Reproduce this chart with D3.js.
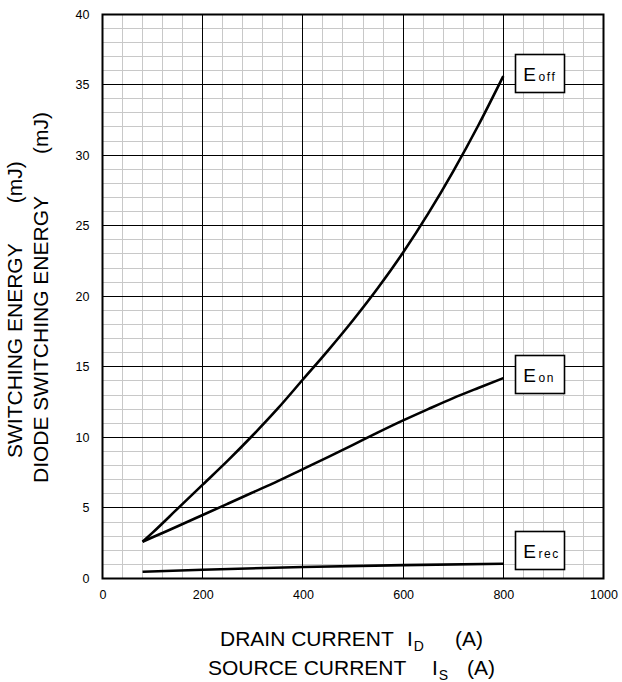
<!DOCTYPE html>
<html>
<head>
<meta charset="utf-8">
<script src="https://cdn.jsdelivr.net/npm/d3@7"></script>
<style>
  html, body { margin: 0; padding: 0; background: #fff; }
  svg { display: block; }
  text { font-family: "Liberation Sans", Arial, sans-serif; fill: #000; }
</style>
</head>
<body>
<svg id="chart" width="622" height="682"></svg>
<script>
// ---- data ----
const currentA = [80, 100, 150, 200, 250, 300, 350, 400, 450, 500, 550, 600, 650, 700, 750, 800];
const eOff = [2.6, 3.25, 4.95, 6.65, 8.35, 10.15, 12.05, 14.1, 16.15, 18.3, 20.6, 23.1, 25.85, 28.85, 32.1, 35.6];
const eOn  = [2.6, 2.92, 3.7, 4.5, 5.3, 6.1, 6.9, 7.75, 8.6, 9.47, 10.35, 11.2, 12.0, 12.78, 13.5, 14.2];
const erecCurrent = [80, 200, 400, 600, 800];
const eRec = [0.48, 0.62, 0.82, 0.95, 1.04];
const xTicks = [0, 200, 400, 600, 800, 1000];
const yTicks = [0, 5, 10, 15, 20, 25, 30, 35, 40];
const xMinor = d3.range(0, 1001, 40);
const yMinor = d3.range(0, 41, 1);
const seriesNames = [["E", "off"], ["E", "on"], ["E", "rec"]];
const xTitle = [["DRAIN CURRENT", "I", "D", "(A)"], ["SOURCE CURRENT", "I", "S", "(A)"]];
const yTitle = [["SWITCHING ENERGY", "(mJ)"], ["DIODE SWITCHING ENERGY", "(mJ)"]];

// ---- layout ----
const svg = d3.select("#chart");
const x = d3.scaleLinear().domain([0, 1000]).range([102.5, 603.5]);
const y = d3.scaleLinear().domain([0, 40]).range([578.5, 14]);
const px = v => Math.round(x(v) - 0.5) + 0.5;
const py = v => Math.round(y(v) - 0.5) + 0.5;

const g = svg.append("g");
// minor grid
g.selectAll(".vmin").data(xMinor).enter().append("line")
  .attr("x1", px).attr("x2", px).attr("y1", py(0)).attr("y2", py(40))
  .attr("stroke", "#c8c8c8").attr("stroke-width", 1);
g.selectAll(".hmin").data(yMinor).enter().append("line")
  .attr("y1", py).attr("y2", py).attr("x1", px(0)).attr("x2", px(1000))
  .attr("stroke", "#c8c8c8").attr("stroke-width", 1);
// major grid
g.selectAll(".vmaj").data(xTicks).enter().append("line")
  .attr("x1", px).attr("x2", px).attr("y1", py(0)).attr("y2", py(40))
  .attr("stroke", "#000").attr("stroke-width", 1);
g.selectAll(".hmaj").data(yTicks).enter().append("line")
  .attr("y1", py).attr("y2", py).attr("x1", px(0)).attr("x2", px(1000))
  .attr("stroke", "#000").attr("stroke-width", 1);
// frame
g.append("rect")
  .attr("x", px(0)).attr("y", py(40))
  .attr("width", px(1000) - px(0)).attr("height", py(0) - py(40))
  .attr("fill", "none").attr("stroke", "#000").attr("stroke-width", 2);

// axes tick labels via d3 axes
const xAxis = svg.append("g").attr("transform", `translate(0,${py(0)})`)
  .call(d3.axisBottom(x).tickValues(xTicks).tickSize(0).tickPadding(12).tickFormat(d3.format("d")));
const yAxis = svg.append("g").attr("transform", `translate(${px(0)},0)`)
  .call(d3.axisLeft(y).tickValues(yTicks).tickSize(0).tickPadding(13).tickFormat(d3.format("d")));
[xAxis, yAxis].forEach(a => {
  a.select(".domain").remove();
  a.selectAll("text").attr("font-size", 12.5).attr("font-family", "Liberation Sans, Arial, sans-serif").attr("fill", "#000");
});

// curves
const line = d3.line().x(d => x(d[0])).y(d => y(d[1])).curve(d3.curveMonotoneX);
const series = [
  d3.zip(currentA, eOff),
  d3.zip(currentA, eOn),
  d3.zip(erecCurrent, eRec)
];
svg.selectAll(".curve").data(series).enter().append("path")
  .attr("d", line).attr("fill", "none").attr("stroke", "#000")
  .attr("stroke-width", 2.6).attr("stroke-linejoin", "round");

// labels in boxes
const boxCenters = [35.8, 14.5, 2.05];
seriesNames.forEach((nm, i) => {
  const bx = x(823), cy = y(boxCenters[i]);
  const bw = 49, bh = 38;
  const lg = svg.append("g");
  lg.append("rect").attr("x", Math.round(bx) + 0.5).attr("y", Math.round(cy - bh / 2) + 0.5)
    .attr("width", bw).attr("height", bh).attr("fill", "#fff").attr("stroke", "#000").attr("stroke-width", 1.6);
  const t = lg.append("text").attr("x", bx + 8.5).attr("y", cy + 8);
  t.append("tspan").attr("font-size", 19).text(nm[0]);
  t.append("tspan").attr("font-size", 12).attr("dx", 2.5).attr("letter-spacing", 1.6).text(nm[1]);
});

// x axis titles
const xtPos = [{ sx: 220, ix: 407, ax: 455, by: 646 }, { sx: 208, ix: 432, ax: 467, by: 675 }];
xTitle.forEach((parts, i) => {
  const p = xtPos[i];
  const t = svg.append("text").attr("y", p.by).attr("font-size", 21);
  t.append("tspan").attr("x", p.sx).text(parts[0]);
  t.append("tspan").attr("x", p.ix).text(parts[1]);
  t.append("tspan").attr("font-size", 14).attr("dy", 5).attr("dx", 1).text(parts[2]);
  t.append("tspan").attr("x", p.ax).attr("dy", -5).text(parts[3]);
});

// y axis titles (rotated)
const ytPos = [{ bx: 22, start: 458, gap: 40 }, { bx: 48, start: 483, gap: 42 }];
yTitle.forEach((parts, i) => {
  const p = ytPos[i];
  const t = svg.append("text").attr("transform", `translate(${p.bx},0) rotate(-90)`).attr("font-size", 21);
  const s1 = t.append("tspan").attr("x", -p.start).text(parts[0]);
  const len = s1.node().getComputedTextLength();
  t.append("tspan").attr("x", -p.start + len + p.gap).text(parts[1]);
});
</script>
</body>
</html>
